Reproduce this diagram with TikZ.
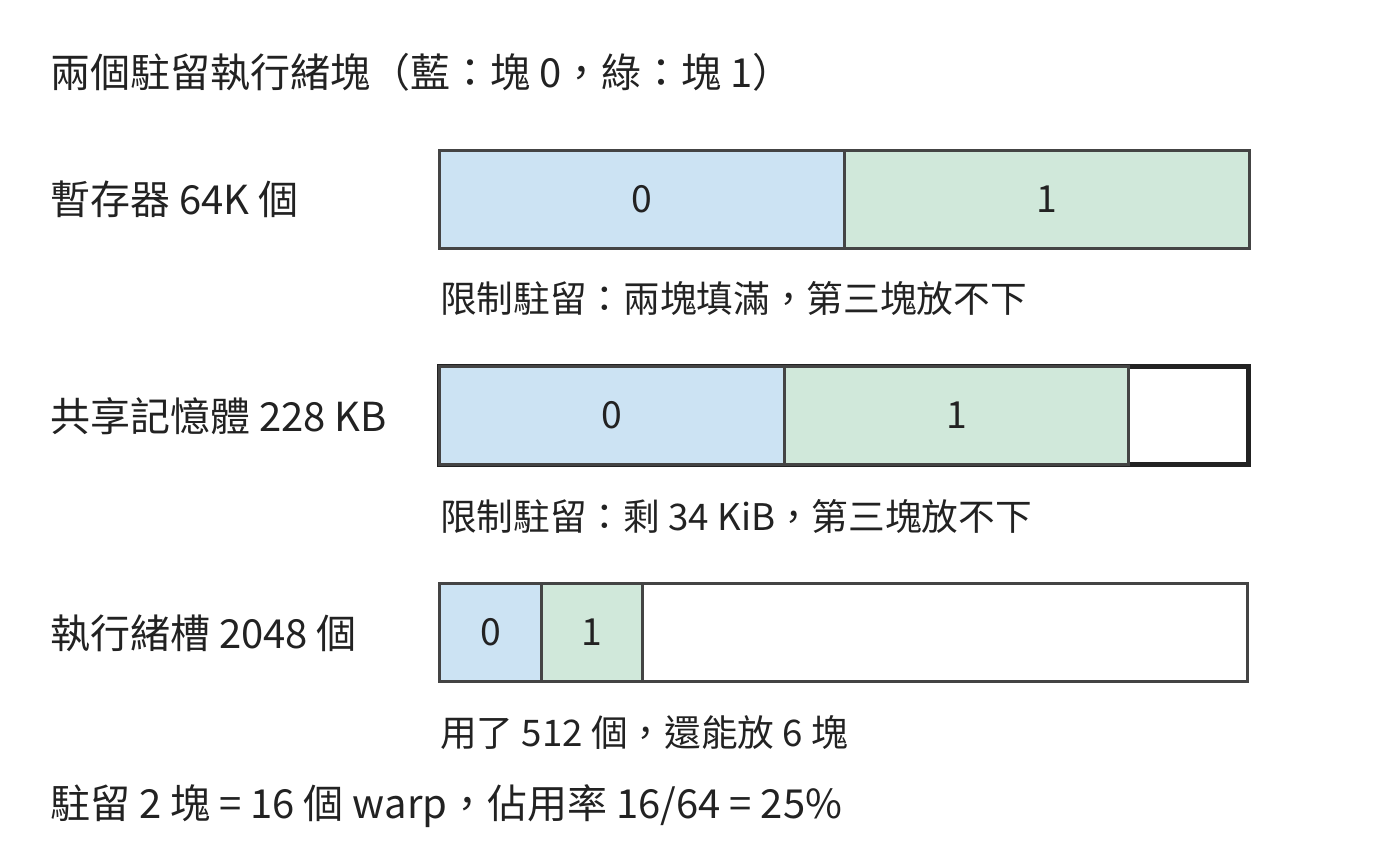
\documentclass[tikz,border=0pt]{standalone}
\usepackage{fontspec}
\setmainfont{Noto Sans CJK TC}
\usetikzlibrary{positioning}
\definecolor{blk0}{HTML}{CCE3F3}
\definecolor{blk1}{HTML}{D0E8DA}
\definecolor{edge}{HTML}{444444}
\definecolor{ink}{HTML}{222222}

\begin{document}
\begin{tikzpicture}[x=0.75pt, y=-0.75pt, font=\fontsize{28}{32}\selectfont, text=ink,
  lbl/.style={anchor=west, inner sep=0pt, font=\fontsize{30}{36}\selectfont},
  note/.style={anchor=west, inner sep=0pt, font=\fontsize{27.5}{33}\selectfont},
  cell/.style={draw=edge, line width=2.25pt, rectangle, outer sep=0pt, inner sep=0pt,
    minimum height=73.5pt, minimum width=#1*0.75pt},
  bar/.style={cell=#1, fill=white, anchor=west},
  tight/.style={draw=ink, line width=3.5pt}]
\useasboundingbox (0,0) rectangle (1400,864);

\node[lbl] (title) at (50,72) {兩個駐留執行緒塊（藍：塊 0，綠：塊 1）};

% registers
\node[lbl] (reglbl) at (50,199) {暫存器 64K 個};
\node[bar=810] (regbar) at (439.5,199) {};
\node[cell=405, fill=blk0, anchor=west] (reg0) at (regbar.west) {0};
\node[cell=405, fill=blk1, right=0pt of reg0] (reg1) {1};
\node[note] (regnote) at (440,298) {限制駐留：兩塊填滿，第三塊放不下};

% shared memory
\node[lbl] (smemlbl) at (50,416) {共享記憶體 228 KB};
\node[bar=809, tight] (smembar) at (439.5,415.5) {};
\node[cell=345, fill=blk0, anchor=west] (smem0) at (smembar.west) {0};
\node[cell=344, fill=blk1, right=0pt of smem0] (smem1) {1};
\node[note] (smemnote) at (440,516) {限制駐留：剩 34 KiB，第三塊放不下};

% thread slots
\node[lbl] (slotlbl) at (50,633) {執行緒槽 2048 個};
\node[bar=808] (slotbar) at (439.5,632) {};
\node[cell=102, fill=blk0, anchor=west] (slot0) at (slotbar.west) {0};
\node[cell=101, fill=blk1, right=0pt of slot0] (slot1) {1};
\node[note] (slotnote) at (440,733) {用了 512 個，還能放 6 塊};

\node[lbl] (summary) at (50,806) {駐留 2 塊 = 16 個 warp，佔用率 16/64 = 25\%};
\end{tikzpicture}
\end{document}
